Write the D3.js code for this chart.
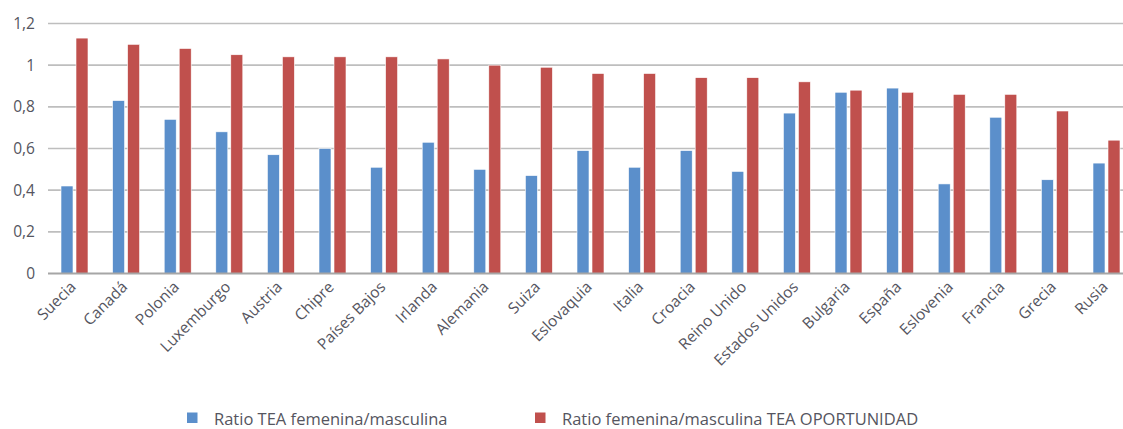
<!DOCTYPE html>
<html><head><meta charset="utf-8">
<script src="https://cdn.jsdelivr.net/npm/d3@7"></script>
<style>body{margin:0;background:#fff}svg{display:block;font-family:"Open Sans",Lato,sans-serif}</style>
</head><body><svg id="c" width="1123" height="429"></svg>
<script>
const categories = ["Suecia","Canadá","Polonia","Luxemburgo","Austria","Chipre","Países Bajos","Irlanda","Alemania","Suiza","Eslovaquia","Italia","Croacia","Reino Unido","Estados Unidos","Bulgaria","España","Eslovenia","Francia","Grecia","Rusia"];
const ratioTEA = [0.42,0.83,0.74,0.68,0.57,0.60,0.51,0.63,0.50,0.47,0.59,0.51,0.59,0.49,0.77,0.87,0.89,0.43,0.75,0.45,0.53];
const ratioOportunidad = [1.13,1.10,1.08,1.05,1.04,1.04,1.04,1.03,1.00,0.99,0.96,0.96,0.94,0.94,0.92,0.88,0.87,0.86,0.86,0.78,0.64];
const yTicks = [0,0.2,0.4,0.6,0.8,1,1.2];
const seriesNames = ["Ratio TEA femenina/masculina","Ratio femenina/masculina TEA OPORTUNIDAD"];
const colors = ["#5B8FCB","#C0504D"];

const svg = d3.select("#c");
const x0 = 48, step = 51.6;
const x = d3.scaleBand().domain(categories).range([x0, x0 + step*categories.length]).paddingInner(0).paddingOuter(0);
const y = d3.scaleLinear().domain([0,1.2]).range([273.5,23.5]);
const fmt = v => String(+v.toFixed(1)).replace(".", ",");

// gridlines
svg.append("g").selectAll("line").data(yTicks.filter(d=>d>0)).join("line")
  .attr("x1",x0).attr("x2",1123).attr("y1",d=>y(d)).attr("y2",d=>y(d))
  .attr("stroke","#BEBEBE").attr("stroke-width",1.6);

// y labels
svg.append("g").selectAll("text").data(yTicks).join("text")
  .attr("x",35).attr("y",d=>y(d)).attr("dy","0.35em").attr("text-anchor","end")
  .attr("font-size",15.5).attr("fill","#555560").text(fmt);

// bars
const bw = 12;
const g = svg.append("g");
g.selectAll(".b1").data(categories).join("rect").attr("class","b1")
  .attr("x",d=>x(d)+13).attr("width",bw)
  .attr("y",(d,i)=>y(ratioTEA[i])).attr("height",(d,i)=>y(0)-y(ratioTEA[i]))
  .attr("fill",colors[0]).attr("stroke","#fff").attr("stroke-width",0.6);
g.selectAll(".b2").data(categories).join("rect").attr("class","b2")
  .attr("x",d=>x(d)+28).attr("width",bw)
  .attr("y",(d,i)=>y(ratioOportunidad[i])).attr("height",(d,i)=>y(0)-y(ratioOportunidad[i]))
  .attr("fill",colors[1]).attr("stroke","#fff").attr("stroke-width",0.6);

// baseline
svg.append("line").attr("x1",x0).attr("x2",1123).attr("y1",y(0)).attr("y2",y(0))
  .attr("stroke","#A6A6A6").attr("stroke-width",1.8);

// x labels
svg.append("g").selectAll("text").data(categories).join("text")
  .attr("transform",d=>`translate(${x(d)+x.bandwidth()/2+3},${288}) rotate(-45)`)
  .attr("text-anchor","end").attr("font-size",15.5).attr("fill","#555560").text(d=>d);

// legend
const lg = svg.append("g");
const lx = [187, 535], tx = [214, 562];
seriesNames.forEach((n,i)=>{
  lg.append("rect").attr("x",lx[i]).attr("y",412.5).attr("width",10.5).attr("height",10.5).attr("fill",colors[i]);
  lg.append("text").attr("x",tx[i]).attr("y",419).attr("dy","0.35em").attr("font-size",16.5).attr("fill","#555560").text(n);
});
</script></body></html>
